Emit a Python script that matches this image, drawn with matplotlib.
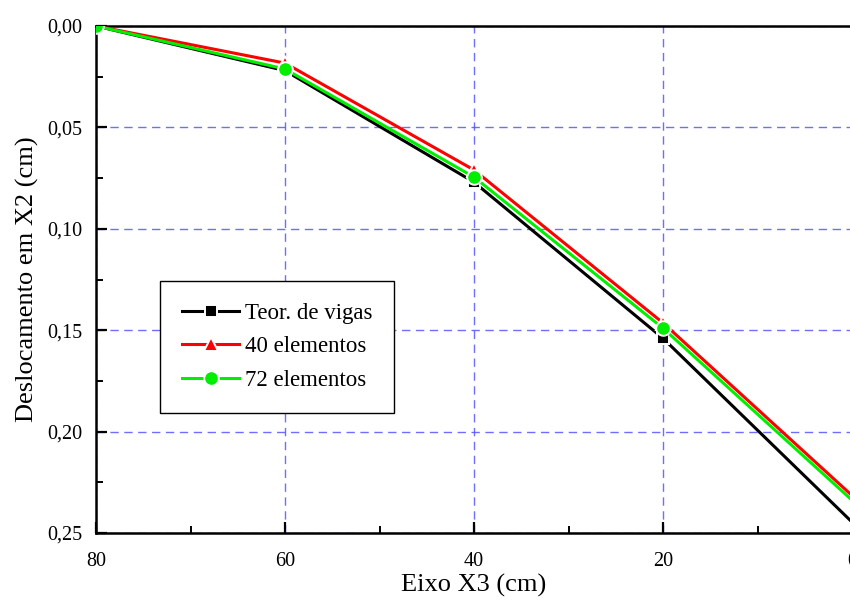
import matplotlib
matplotlib.use("Agg")
import matplotlib.pyplot as plt
from matplotlib.ticker import MultipleLocator, FuncFormatter

# deflection along the beam (cm)
x3 = [80, 60, 40, 20, 0]
teoria = [0.0, 0.0220, 0.0770, 0.1540, 0.2446]
elem40 = [0.0, 0.0183, 0.0710, 0.1464, 0.2315]
elem72 = [0.0, 0.0212, 0.0745, 0.1490, 0.2338]
labels = ["Teor. de vigas", "40 elementos", "72 elementos"]

plt.rcParams["font.family"] = ["Liberation Serif", "DejaVu Serif"]

fig = plt.figure(figsize=(8.5, 6.01), dpi=100)
ax = fig.add_axes([96 / 850, 1 - 533 / 601, 756 / 850, 507 / 601])

series = [(teoria, "black", "s", 9), (elem40, "red", "^", 10.5), (elem72, "#00ee00", "o", 10.5)]
for (y, c, m, ms), lab in zip(series, labels):
    ax.plot(x3, y, color=c, lw=2.2, marker=m, ms=ms, mfc=c, mec="white", mew=1.4,
            markevery=[0, 1, 2, 3], label=lab, zorder=3)

ax.set_xlim(80, 0)
ax.set_ylim(0.25, 0.0)
ax.xaxis.set_major_locator(MultipleLocator(20))
ax.xaxis.set_minor_locator(MultipleLocator(10))
ax.yaxis.set_major_locator(MultipleLocator(0.05))
ax.yaxis.set_minor_locator(MultipleLocator(0.025))
ax.yaxis.set_major_formatter(FuncFormatter(lambda v, p: f"{v:.2f}".replace(".", ",")))
ax.xaxis.set_major_formatter(FuncFormatter(lambda v, p: f"{v:.0f}"))

ax.grid(True, which="major", color="#5555ff", ls=(0, (6, 4)), lw=1.0, alpha=0.85)
ax.tick_params(which="major", direction="in", length=8, width=1.6, labelsize=14.5)
ax.tick_params(axis="x", which="major", pad=14)
ax.tick_params(axis="y", which="major", pad=10)
ax.tick_params(which="minor", direction="in", length=5, width=1.4)
for s in ax.spines.values():
    s.set_linewidth(1.8)

ax.set_xlabel("Eixo X3 (cm)", fontsize=19, labelpad=2)
ax.set_ylabel("Deslocamento em X2 (cm)", fontsize=19, labelpad=6)

leg = ax.legend(loc="upper left", bbox_to_anchor=(0.085, 0.497), borderaxespad=0,
                fontsize=16.5, frameon=True, fancybox=False, edgecolor="black",
                framealpha=1, handlelength=2.5, handletextpad=0.25, borderpad=0.95,
                labelspacing=0.55)
leg.get_frame().set_linewidth(1.0)

fig.savefig("out.png", dpi=100)
